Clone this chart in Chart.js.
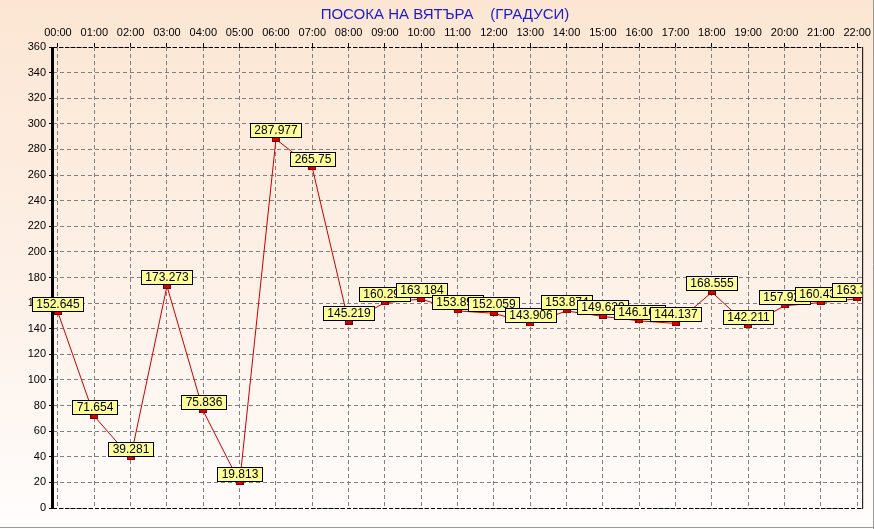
<!DOCTYPE html>
<html>
<head>
<meta charset="utf-8">
<title>Посока на вятъра</title>
<script src="https://cdn.jsdelivr.net/npm/chart.js@4"></script>
<style>
  html, body { margin: 0; padding: 0; background: #fff; }
  canvas { display: block; }
</style>
</head>
<body>
<canvas id="windChart" width="874" height="529"></canvas>
<script>
// hours along the top axis
const hours = ['00:00', '01:00', '02:00', '03:00', '04:00', '05:00', '06:00', '07:00',
  '08:00', '09:00', '10:00', '11:00', '12:00', '13:00', '14:00', '15:00',
  '16:00', '17:00', '18:00', '19:00', '20:00', '21:00', '22:00'];
// wind direction, degrees
const direction = [152.645, 71.654, 39.281, 173.273, 75.836, 19.813, 287.977, 265.75,
  145.219, 160.293, 163.184, 153.892, 152.059, 143.906, 153.874, 149.629,
  146.161, 144.137, 168.555, 142.211, 157.925, 160.436, 163.327];
const yTicks = { min: 0, max: 360, step: 20 };
const titleText = 'ПОСОКА НА ВЯТЪРА    (ГРАДУСИ)';

// small red rectangle used as the point marker
const marker = document.createElement('canvas');
marker.width = 8;
marker.height = 5;
const mctx = marker.getContext('2d');
mctx.fillStyle = '#800000';
mctx.fillRect(0, 0, 8, 5);
mctx.fillStyle = '#dd0000';
mctx.fillRect(1, 1, 6, 3);

const backgroundPlugin = {
    id: 'background',
    beforeDraw(chart) {
        const c = chart.ctx;
        const g = c.createLinearGradient(0, 0, 0, chart.height);
        g.addColorStop(0, '#fce6d3');
        g.addColorStop(0.55, '#fdf1e8');
        g.addColorStop(1, '#fffdfc');
        c.save();
        c.fillStyle = g;
        c.fillRect(0, 0, chart.width, chart.height);
        c.strokeStyle = '#9a9a9a';
        c.lineWidth = 1;
        c.beginPath();
        c.moveTo(0, chart.height - 1.5);
        c.lineTo(chart.width, chart.height - 1.5);
        c.moveTo(chart.width - 0.5, 0);
        c.lineTo(chart.width - 0.5, chart.height);
        c.stroke();
        // title
        c.fillStyle = '#1c1ccc';
        c.font = '15px "Liberation Sans", Arial, sans-serif';
        c.textAlign = 'center';
        c.textBaseline = 'middle';
        c.fillText(titleText, 445, 15);
        c.restore();
    }
};

const framePlugin = {
    id: 'frame',
    beforeDatasetsDraw(chart) {
        const c = chart.ctx;
        const a = chart.chartArea;
        c.save();
        c.strokeStyle = '#000';
        c.lineWidth = 1;
        c.setLineDash([4, 2]);
        c.beginPath();
        c.moveTo(a.left, a.top + 0.5);
        c.lineTo(a.right, a.top + 0.5);
        c.moveTo(a.left, a.bottom + 0.5);
        c.lineTo(a.right, a.bottom + 0.5);
        c.stroke();
        c.setLineDash([]);
        c.beginPath();
        c.moveTo(a.right + 0.5, a.top);
        c.lineTo(a.right + 0.5, a.bottom + 1);
        c.stroke();
        c.lineWidth = 3;
        c.beginPath();
        c.moveTo(a.left - 0.5, a.top);
        c.lineTo(a.left - 0.5, a.bottom + 1);
        c.stroke();
        c.restore();
    }
};

const labelPlugin = {
    id: 'valueLabels',
    afterDatasetsDraw(chart) {
        const c = chart.ctx;
        const a = chart.chartArea;
        const meta = chart.getDatasetMeta(0);
        c.save();
        c.beginPath();
        c.rect(0, 0, a.right, chart.height);
        c.clip();
        c.font = '12px "Liberation Sans", Arial, sans-serif';
        c.textAlign = 'center';
        c.textBaseline = 'middle';
        meta.data.forEach((pt, i) => {
            const txt = String(direction[i]);
            const w = Math.round(c.measureText(txt).width) + 8;
            const h = 14;
            const x = Math.round(pt.x - w / 2) + 0.5;
            const y = Math.round(pt.y - 2 - h) + 0.5;
            c.fillStyle = '#ffff99';
            c.fillRect(x, y, w, h);
            c.strokeStyle = '#000';
            c.lineWidth = 1;
            c.strokeRect(x, y, w, h);
            c.fillStyle = '#000';
            c.fillText(txt, x + w / 2, y + h / 2 + 0.5);
        });
        c.restore();
    }
};

const ctx = document.getElementById('windChart').getContext('2d');
const windChart = new Chart(ctx, {
    type: 'line',
    data: {
        datasets: [{
            label: 'Посока',
            data: direction.map((v, i) => ({ x: i, y: v })),
            borderColor: '#cc0000',
            borderWidth: 1,
            tension: 0,
            fill: false,
            pointStyle: marker,
            pointRadius: 4,
            pointHoverRadius: 4
        }]
    },
    options: {
        responsive: false,
        animation: false,
        events: [],
        layout: {
            padding: { top: 25, left: 0, right: 8, bottom: 21 }
        },
        plugins: {
            legend: { display: false },
            title: { display: false },
            tooltip: { enabled: false }
        },
        scales: {
            x: {
                type: 'linear',
                position: 'top',
                min: -0.137,
                max: hours.length - 1 + 0.137,
                afterBuildTicks: (scale) => {
                    scale.ticks = hours.map((_, i) => ({ value: i }));
                },
                afterFit: (scale) => { scale.height = 22; },
                ticks: {
                    autoSkip: false,
                    maxRotation: 0,
                    padding: 3,
                    color: '#000',
                    font: { family: '"Liberation Sans", Arial, sans-serif', size: 11 },
                    callback: (v) => hours[Math.round(v)]
                },
                grid: {
                    color: '#808080',
                    tickColor: '#000',
                    tickLength: 4
                },
                border: { display: false, dash: [4, 3] }
            },
            y: {
                min: yTicks.min,
                max: yTicks.max,
                afterFit: (scale) => { scale.width = 53; },
                ticks: {
                    stepSize: yTicks.step,
                    padding: 3,
                    color: '#000',
                    font: { family: '"Liberation Sans", Arial, sans-serif', size: 11 }
                },
                grid: {
                    color: '#808080',
                    tickColor: '#000',
                    tickLength: 4
                },
                border: { display: false, dash: [4, 3] }
            }
        }
    },
    plugins: [backgroundPlugin, framePlugin, labelPlugin]
});
</script>
</body>
</html>
